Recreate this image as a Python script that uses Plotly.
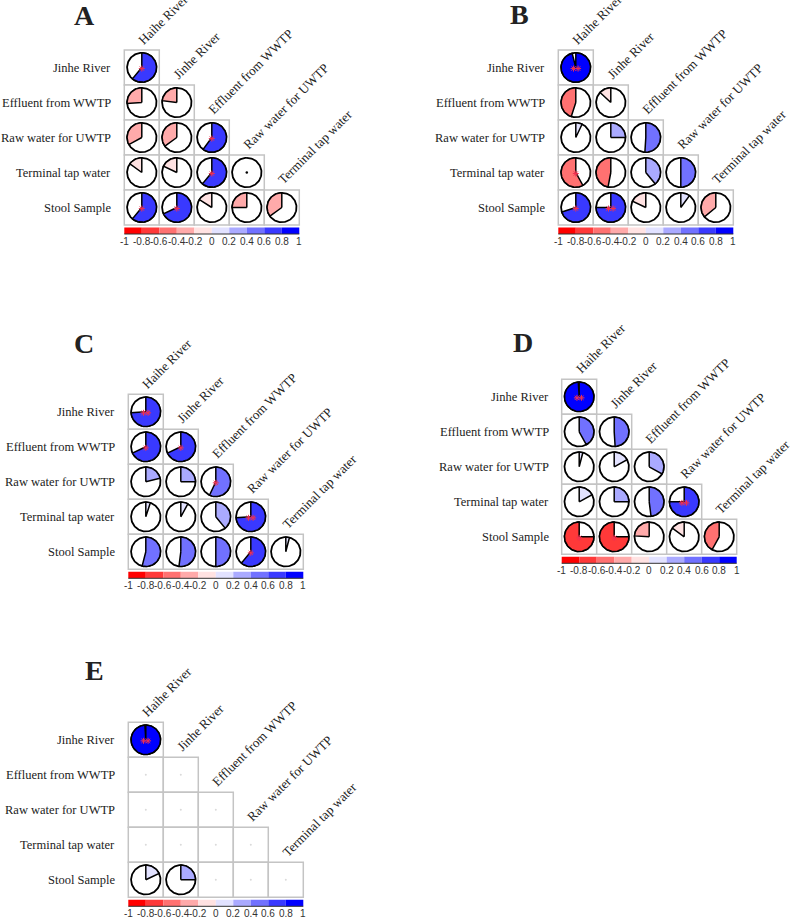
import numpy as np
import plotly.graph_objects as go

# ---------------- data ----------------
row_labels = ["Jinhe River", "Effluent from WWTP", "Raw water for UWTP",
              "Terminal tap water", "Stool Sample"]
col_labels = ["Haihe River", "Jinhe River", "Effluent from WWTP",
              "Raw water for UWTP", "Terminal tap water"]
panel_letters = ["A", "B", "C", "D", "E"]

corr_A = [[0.61],
          [-0.26, -0.23],
          [-0.33, -0.35, 0.60],
          [-0.15, -0.18, 0.61, 0.0],
          [0.61, 0.68, -0.16, -0.25, -0.35]]
stars_A = [["*"], ["", ""], ["", "", "*"], ["", "", "*", ""], ["*", "*", "", "", ""]]

corr_B = [[0.96],
          [-0.45, -0.13],
          [0.07, 0.25, 0.51],
          [-0.58, -0.47, 0.39, 0.50],
          [0.70, 0.75, -0.18, 0.10, -0.36]]
stars_B = [["**"], ["", ""], ["", "", ""], ["*", "", "", ""], ["*", "**", "", "", ""]]

corr_C = [[0.74],
          [0.68, 0.68],
          [0.21, 0.25, 0.57],
          [0.05, 0.08, 0.39, 0.74],
          [0.54, 0.52, 0.50, 0.61, 0.04]]
stars_C = [["**"], ["*", "*"], ["", "", "*"], ["", "", "", "**"], ["", "", "", "*", ""]]

corr_D = [[0.99],
          [0.42, 0.49],
          [0.04, 0.17, 0.33],
          [0.17, 0.25, 0.48, 0.75],
          [-0.75, -0.75, -0.24, -0.15, -0.42]]
stars_D = [["**"], ["", ""], ["", "", ""], ["", "", "", "**"], ["*", "*", "", "", ""]]

corr_E = [[0.99],
          [None, None],
          [None, None, None],
          [None, None, None, None],
          [0.18, 0.25, None, None, None]]
stars_E = [["**"], ["", ""], ["", "", ""], ["", "", "", ""], ["", "", "", "", ""]]

bin_edges = [-1.0, -0.8, -0.6, -0.4, -0.2, 0.0, 0.2, 0.4, 0.6, 0.8, 1.0]
bin_colors = ["#FF0000", "#FF3939", "#FF7171", "#FFAAAA", "#FFE2E2",
              "#E2E2FF", "#AAAAFF", "#7171FF", "#3939FF", "#0000FF"]
bar_ticks = [-1.0, -0.8, -0.6, -0.4, -0.2, 0.0, 0.2, 0.4, 0.6, 0.8, 1.0]
bar_tick_text = ["-1", "-0.8", "-0.6", "-0.4", "-0.2", "0", "0.2", "0.4", "0.6", "0.8", "1"]

panels = [(corr_A, stars_A), (corr_B, stars_B), (corr_C, stars_C),
          (corr_D, stars_D), (corr_E, stars_E)]

# ---------------- layout geometry ----------------
W, H = 790, 917
S = 35.0                      # px per cell
origins = [(124.3, 50.0), (558.3, 50.0), (128.3, 394.3), (561.7, 379.3), (128.3, 722.3)]
letter_pos = [(84, 15), (519, 14.5), (84, 343), (523, 342.7), (94.5, 670.7)]
XR = (-0.6, 4.6)
YR = (-0.6, 4.85)
R = 0.42
BAR_TOP = 4.5 + 2.5 / S
BAR_BOT = 4.5 + 9.0 / S

SERIF = "Liberation Serif, Times New Roman, serif"
SANS = "Liberation Sans, Arial, sans-serif"


def color_for(v):
    for b in range(10):
        if v < bin_edges[b + 1] or b == 9:
            return bin_colors[b]


fig = go.Figure()
shapes, annotations, axes = [], [], {}

for k, (corr, stars) in enumerate(panels):
    sfx = "" if k == 0 else str(k + 1)
    xr, yr = "x" + sfx, "y" + sfx
    gx, gy = origins[k]
    x0 = gx + (XR[0] + 0.5) * S
    x1 = gx + (XR[1] + 0.5) * S
    y0 = gy + (YR[0] + 0.5) * S
    y1 = gy + (YR[1] + 0.5) * S
    axes["xaxis" + sfx] = dict(domain=[x0 / W, x1 / W], range=list(XR), visible=False,
                               fixedrange=True, anchor=yr)
    axes["yaxis" + sfx] = dict(domain=[1 - y1 / H, 1 - y0 / H], range=[YR[1], YR[0]],
                               visible=False, fixedrange=True, anchor=xr)

    for i, row in enumerate(corr):
        for j, v in enumerate(row):
            shapes.append(dict(type="rect", xref=xr, yref=yr, x0=j - 0.5, x1=j + 0.5,
                               y0=i - 0.5, y1=i + 0.5, line=dict(color="#C4C4C4", width=1.5),
                               fillcolor="white", layer="below"))
            if v is None:
                fig.add_trace(go.Scatter(x=[j], y=[i], mode="markers", xaxis=xr, yaxis=yr,
                                         marker=dict(size=2, color="#DADADA"),
                                         hoverinfo="skip", showlegend=False))
                continue
            t = np.linspace(0, 2 * np.pi, 121)
            fig.add_trace(go.Scatter(x=j + R * np.sin(t), y=i - R * np.cos(t), mode="lines",
                                     fill="toself", fillcolor="white",
                                     line=dict(color="black", width=1.8),
                                     xaxis=xr, yaxis=yr, hoverinfo="skip", showlegend=False))
            if abs(v) > 0.005:
                tw = np.linspace(0, 2 * np.pi * v, max(3, int(abs(v) * 120)))
                wx = np.concatenate([[j], j + R * np.sin(tw), [j]])
                wy = np.concatenate([[i], i - R * np.cos(tw), [i]])
                fig.add_trace(go.Scatter(x=wx, y=wy, mode="lines", fill="toself",
                                         fillcolor=color_for(v),
                                         line=dict(color="black", width=1.5),
                                         xaxis=xr, yaxis=yr, hoverinfo="skip",
                                         showlegend=False))
            else:
                fig.add_trace(go.Scatter(x=[j], y=[i], mode="markers", xaxis=xr, yaxis=yr,
                                         marker=dict(size=2.5, color="black"),
                                         hoverinfo="skip", showlegend=False))
            st = stars[i][j]
            if st:
                n = len(st)
                offs = [0.0] if n == 1 else [-0.065, 0.065]
                fig.add_trace(go.Scatter(x=[j + o for o in offs], y=[i + 0.03] * n,
                                         mode="markers", xaxis=xr, yaxis=yr,
                                         marker=dict(symbol="asterisk-open", size=5,
                                                     color="#F03050",
                                                     line=dict(color="#F03050", width=1)),
                                         hoverinfo="skip", showlegend=False))

    # colour legend
    for b in range(10):
        shapes.append(dict(type="rect", xref=xr, yref=yr,
                           x0=-0.5 + (bin_edges[b] + 1) * 2.5, x1=-0.5 + (bin_edges[b + 1] + 1) * 2.5,
                           y0=BAR_TOP, y1=BAR_BOT, line=dict(width=0),
                           fillcolor=bin_colors[b], layer="below"))
    shapes.append(dict(type="line", xref=xr, yref=yr, x0=-0.5, x1=4.5, y0=BAR_BOT, y1=BAR_BOT,
                       line=dict(color="#333333", width=1)))
    for tv, tt in zip(bar_ticks, bar_tick_text):
        annotations.append(dict(xref=xr, yref=yr, x=-0.5 + (tv + 1) * 2.5, y=BAR_BOT,
                                text=tt, showarrow=False, xanchor="center", yanchor="top",
                                font=dict(family=SANS, size=10, color="#333333")))

    # row labels
    for i, lab in enumerate(row_labels):
        annotations.append(dict(xref=xr, yref=yr, x=-0.5, y=i, xshift=-11, text=lab,
                                showarrow=False, xanchor="right", yanchor="middle",
                                font=dict(family=SERIF, size=12.5, color="#222222")))
    # column labels
    for j, lab in enumerate(col_labels):
        annotations.append(dict(xref=xr, yref=yr, x=j - 0.27, y=j - 0.5, text=lab,
                                showarrow=False, xanchor="left", yanchor="bottom",
                                textangle=-45,
                                font=dict(family=SERIF, size=13, color="#222222")))
    # panel letter
    lx, ly = letter_pos[k]
    annotations.append(dict(xref="paper", yref="paper", x=lx / W, y=1 - ly / H,
                            text="<b>" + panel_letters[k] + "</b>", showarrow=False,
                            xanchor="center", yanchor="middle",
                            font=dict(family=SERIF, size=28, color="#222222")))

fig.update_layout(width=W, height=H, margin=dict(l=0, r=0, t=0, b=0),
                  paper_bgcolor="white", plot_bgcolor="white",
                  shapes=shapes, annotations=annotations, showlegend=False, **axes)

fig.write_html("out.html",
               config={"displayModeBar": False, "staticPlot": True},
               post_script="document.body.style.margin='0px';"
                           "document.body.style.overflow='hidden';")
